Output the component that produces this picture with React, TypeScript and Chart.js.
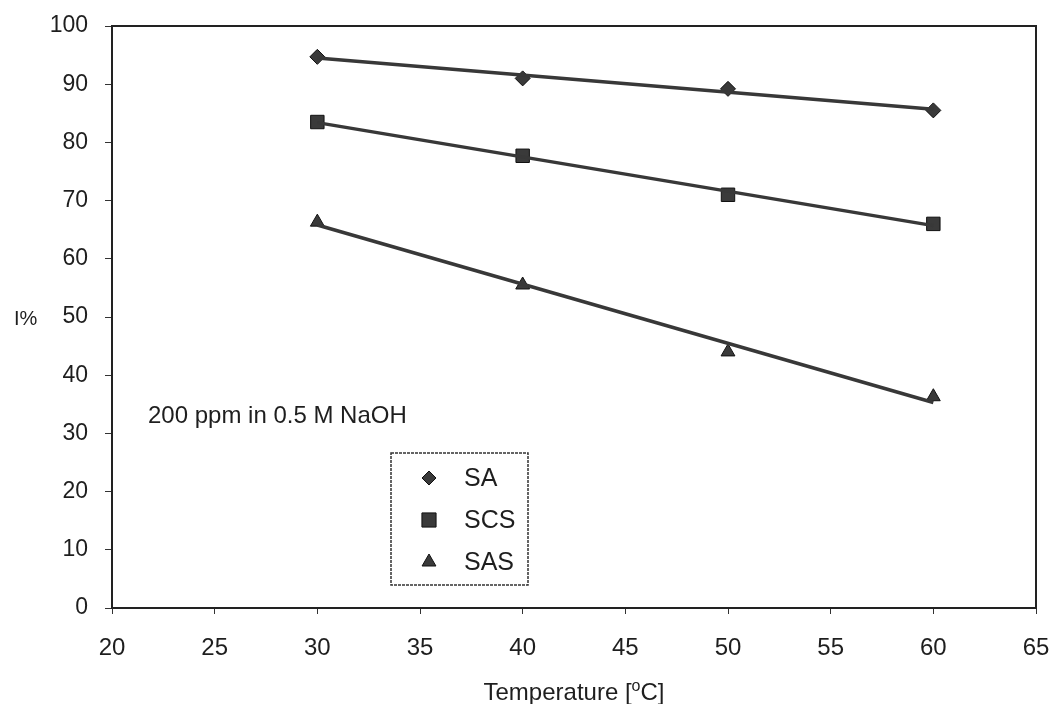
import React, { useEffect, useRef } from "react";
import { Chart, registerables } from "chart.js";

Chart.register(...registerables);

const xValues = [30, 40, 50, 60];
const saValues = [94.7, 91, 89.2, 85.5];
const scsValues = [83.5, 77.7, 71, 66];
const sasValues = [66.3, 55.5, 44, 36.3];
const trendX = [30, 60];
const saTrend = [94.5, 85.7];
const scsTrend = [83.4, 65.7];
const sasTrend = [65.8, 35.3];
const seriesNames = ["SA", "SCS", "SAS"];
const annotationText = "200 ppm in 0.5 M NaOH";
const yTitle = "I%";

const FONT = "'Liberation Sans', Arial, sans-serif";
const INK = "#1e1e1e";
const MARK = "#3a3a3a";

function pts(xs: number[], ys: number[]) {
  return xs.map((x, i) => ({ x, y: ys[i] }));
}

function drawMarker(ctx: CanvasRenderingContext2D, style: string, x: number, y: number, r: number) {
  ctx.beginPath();
  if (style === "rectRot") {
    ctx.moveTo(x - r, y);
    ctx.lineTo(x, y - r);
    ctx.lineTo(x + r, y);
    ctx.lineTo(x, y + r);
    ctx.closePath();
  } else if (style === "rect") {
    const s = Math.SQRT1_2 * r;
    ctx.rect(x - s, y - s, 2 * s, 2 * s);
  } else {
    const e = (3 * r) / Math.sqrt(3);
    const h = (e * Math.sqrt(3)) / 2;
    ctx.moveTo(x - e / 2, y + h / 3);
    ctx.lineTo(x + e / 2, y + h / 3);
    ctx.lineTo(x, y - (2 * h) / 3);
    ctx.closePath();
  }
  ctx.fillStyle = MARK;
  ctx.fill();
  ctx.lineWidth = 1;
  ctx.strokeStyle = "#111";
  ctx.stroke();
}

const decorPlugin = {
  id: "decor",
  afterDraw(chart: any) {
    const ctx: CanvasRenderingContext2D = chart.ctx;
    const a = chart.chartArea;
    ctx.save();
    // frame
    ctx.strokeStyle = "#222";
    ctx.lineWidth = 2;
    ctx.strokeRect(a.left, a.top, a.right - a.left, a.bottom - a.top);

    // y title
    ctx.fillStyle = INK;
    ctx.font = `20px ${FONT}`;
    ctx.textAlign = "left";
    ctx.textBaseline = "middle";
    ctx.fillText(yTitle, 14, chart.scales.y.getPixelForValue(49.5));

    // x title with superscript o
    const cx = (a.left + a.right) / 2;
    const ty = 692;
    const p1 = "Temperature [";
    const p3 = "C]";
    ctx.font = `24px ${FONT}`;
    const w1 = ctx.measureText(p1).width;
    const w3 = ctx.measureText(p3).width;
    ctx.font = `16px ${FONT}`;
    const w2 = ctx.measureText("o").width;
    let sx = cx - (w1 + w2 + w3) / 2;
    ctx.textBaseline = "alphabetic";
    ctx.font = `24px ${FONT}`;
    ctx.fillText(p1, sx, ty + 8);
    sx += w1;
    ctx.font = `16px ${FONT}`;
    ctx.fillText("o", sx, ty - 1);
    sx += w2;
    ctx.font = `24px ${FONT}`;
    ctx.fillText(p3, sx, ty + 8);

    // annotation
    ctx.font = `24px ${FONT}`;
    ctx.textBaseline = "middle";
    ctx.fillText(annotationText, a.left + 36, chart.scales.y.getPixelForValue(33));

    // legend box
    const bx = 391, by = 453, bw = 137, bh = 132;
    ctx.setLineDash([3, 1]);
    ctx.lineWidth = 1.5;
    ctx.strokeStyle = "#333";
    ctx.strokeRect(bx, by, bw, bh);
    ctx.setLineDash([]);
    const styles = ["rectRot", "rect", "triangle"];
    const radii = [7, 10, 8];
    const rows = [478, 520, 562];
    ctx.font = `25px ${FONT}`;
    ctx.textBaseline = "middle";
    seriesNames.forEach((name, i) => {
      drawMarker(ctx, styles[i], 429, rows[i], radii[i]);
      ctx.fillStyle = INK;
      ctx.fillText(name, 464, rows[i] + 1);
    });
    ctx.restore();
  },
};

export default function App() {
  const ref = useRef<HTMLCanvasElement | null>(null);
  useEffect(() => {
    document.body.style.margin = "0";
    const lineDs = (data: number[], label: string) => ({
      label,
      data: pts(trendX, data),
      showLine: true,
      borderColor: "#383838",
      borderWidth: 3.5,
      pointRadius: 0,
      fill: false,
    });
    const pointDs = (data: number[], label: string, style: string, r: number) => ({
      label,
      data: pts(xValues, data),
      showLine: false,
      pointStyle: style,
      pointRadius: r,
      backgroundColor: MARK,
      borderColor: "#111",
      borderWidth: 1,
    });
    const chart = new Chart(ref.current as HTMLCanvasElement, {
      type: "scatter",
      data: {
        datasets: [
          lineDs(saTrend, "SA trend"),
          lineDs(scsTrend, "SCS trend"),
          lineDs(sasTrend, "SAS trend"),
          pointDs(saValues, seriesNames[0], "rectRot", 7.5),
          pointDs(scsValues, seriesNames[1], "rect", 9.5),
          pointDs(sasValues, seriesNames[2], "triangle", 8),
        ] as any,
      },
      options: {
        animation: false,
        responsive: false,
        layout: { padding: { top: 26, right: 19, bottom: 0, left: 0 } },
        plugins: { legend: { display: false }, tooltip: { enabled: false } },
        scales: {
          x: {
            type: "linear",
            min: 20,
            max: 65,
            afterFit: (s: any) => {
              s.height = 96;
              s.paddingLeft = 0;
              s.paddingRight = 0;
            },
            ticks: {
              stepSize: 5,
              color: INK,
              font: { family: FONT, size: 24 },
              padding: 20,
            },
            grid: { drawOnChartArea: false, tickLength: 6, color: "#333", lineWidth: 1 },
            border: { color: "#222", width: 2 },
          },
          y: {
            type: "linear",
            min: 0,
            max: 100,
            afterFit: (s: any) => {
              s.width = 112;
              s.paddingTop = 0;
              s.paddingBottom = 0;
            },
            ticks: {
              stepSize: 10,
              color: INK,
              font: { family: FONT, size: 23 },
              padding: 17,
            },
            grid: { drawOnChartArea: false, tickLength: 7, color: "#333", lineWidth: 1 },
            border: { color: "#222", width: 2 },
          },
        },
      },
      plugins: [decorPlugin],
    });
    return () => chart.destroy();
  }, []);
  return <canvas ref={ref} width={1055} height={704} style={{ display: "block" }} />;
}
